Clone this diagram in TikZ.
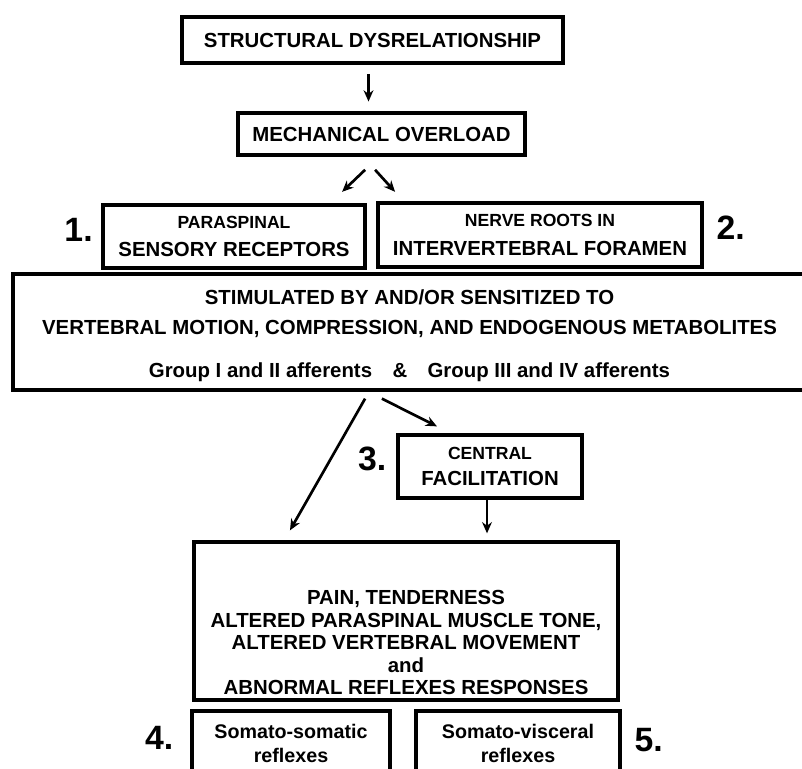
\documentclass[tikz,border=0pt]{standalone}
\usepackage{fontspec}
\setmainfont{Liberation Sans}
\usepackage{tikz}
\usetikzlibrary{arrows.meta,positioning}

\begin{document}
\begin{tikzpicture}[
    x=0.025cm, y=-0.025cm,
    box/.style={draw, line width=2.3pt, align=center, inner sep=0pt,
        font=\bfseries\fontsize{14.5}{20}\selectfont},
    num/.style={inner sep=0pt, font=\bfseries\fontsize{24}{24}\selectfont},
    arr/.style={-{Stealth[length=8pt,width=7pt]}, line width=1.9pt}
]
    \useasboundingbox (0,0) rectangle (802,769);
    \clip (0,0) rectangle (802,769);

    % Top of the chain
    \node[box, minimum width=9.525cm, minimum height=1.15cm] (top) at (372.5,40) {STRUCTURAL DYSRELATIONSHIP};
    \node[box, minimum width=7.175cm, minimum height=1.05cm] (mech) at (381.5,134) {MECHANICAL OVERLOAD};

    % The two receptor sites, numbered 1 and 2
    \node[box, minimum width=6.55cm, minimum height=1.575cm] (recept) at (234,236.5)
        {{\fontsize{12.5}{20}\selectfont PARASPINAL}\\SENSORY RECEPTORS};
    \node[box, minimum width=8.1cm, minimum height=1.6cm] (roots) at (540,235)
        {{\fontsize{12.5}{20}\selectfont NERVE ROOTS IN}\\INTERVERTEBRAL FORAMEN};
    \node[num, left=6pt of recept, yshift=4.5pt] {1.};
    \node[num, right=9pt of roots, yshift=5pt] {2.};

    % Wide box of stimuli
    \node[box, minimum width=19.825cm, minimum height=2.9cm, font=\bfseries\fontsize{14.5}{21.5}\selectfont] (stim) at (409.5,332)
        {\rule{0pt}{16pt}STIMULATED BY AND/OR SENSITIZED TO\\
         VERTEBRAL MOTION, COMPRESSION, AND ENDOGENOUS METABOLITES\\[9pt]
         Group I and II afferents\quad\&\quad Group III and IV afferents};

    % Central facilitation, number 3
    \node[box, minimum width=4.6cm, minimum height=1.575cm, font=\bfseries\fontsize{14.5}{18.5}\selectfont] (facil) at (490,466.5)
        {{\fontsize{12.5}{18.5}\selectfont CENTRAL}\\FACILITATION};
    \node[num, left=7pt of facil, yshift=5.5pt] {3.};

    % Effects
    \node[box, minimum width=10.6cm, minimum height=3.95cm, font=\bfseries\fontsize{14.5}{16}\selectfont] (effects) at (406,621)
        {\rule{0pt}{41pt}PAIN, TENDERNESS\\
         ALTERED PARASPINAL MUSCLE TONE,\\
         ALTERED VERTEBRAL MOVEMENT\\
         and\\
         ABNORMAL REFLEXES RESPONSES};

    % Reflexes, numbers 4 and 5
    \node[box, minimum width=4.95cm, minimum height=1.625cm, font=\bfseries\fontsize{14}{17.5}\selectfont] (somsom) at (291,743.5)
        {Somato-somatic\\reflexes};
    \node[box, minimum width=5.1cm, minimum height=1.625cm, font=\bfseries\fontsize{14}{17.5}\selectfont] (somvis) at (518,743.5)
        {Somato-visceral\\reflexes};
    \node[num, left=12pt of somsom, yshift=4pt] {4.};
    \node[num, right=9pt of somvis, yshift=2.5pt] {5.};

    % Arrows
    \draw[arr, shorten <=6.5pt, shorten >=7pt] ([xshift=-0.1cm]top.south) -- ([xshift=-0.1cm]top.south |- mech.north);
    \draw[arr] ([xshift=-0.41cm,yshift=-0.33cm]mech.south) -- ++(-23,22);
    \draw[arr] ([xshift=-0.16cm,yshift=-0.33cm]mech.south) -- ++(20,22);
    \draw[arr] ([xshift=-1.11cm,yshift=-0.175cm]stim.south) -- ([xshift=-2.9cm,yshift=0.25cm]effects.north);
    \draw[arr] ([xshift=-0.69cm,yshift=-0.175cm]stim.south) -- ([xshift=-1.325cm,yshift=0.175cm]facil.north);
    \draw[arr, shorten >=5pt] ([xshift=-0.075cm]facil.south) -- ([xshift=-0.075cm]facil.south |- effects.north);
\end{tikzpicture}
\end{document}
